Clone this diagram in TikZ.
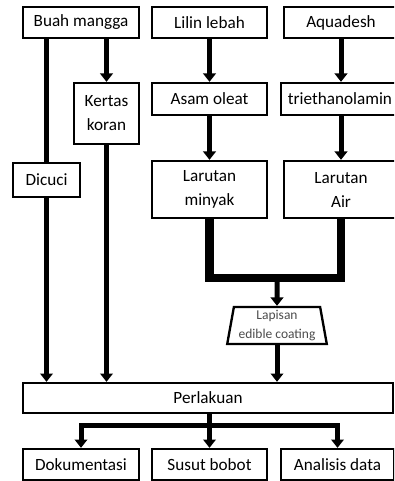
\documentclass[tikz,border=0pt]{standalone}
\usepackage{fontspec}
\setmainfont{Carlito}
\usetikzlibrary{arrows.meta, shapes.geometric}
\tikzset{
  bx/.style={rectangle, draw=black, line width=1.4pt, fill=white, inner sep=0pt,
             align=center, font=\fontsize{10.3}{14.4}\selectfont},
  ln/.style={line width=3pt},
  ar/.style={line width=3pt, -{Triangle[width=7.5pt, length=5pt]}},
  % gabungan larutan minyak + larutan air
  thk/.style={line width=5pt, line join=miter},
  trap/.style={trapezium, trapezium stretches=true, trapezium left angle=79,
               trapezium right angle=79, draw=black, line width=1.4pt, fill=white,
               inner sep=0pt, align=center, text=black!70,
               font=\fontsize{8.1}{11.4}\selectfont}
}
\begin{document}
\begin{tikzpicture}[x=0.6pt,y=-0.6pt]
    \useasboundingbox (0,0) rectangle (394,481);
    \clip (0,0) rectangle (394,481);

    % ---- baris atas ----
    \node[bx, minimum width=69.6pt, minimum height=18.6pt] (buah)  at (81,22.5)  {Buah mangga};
    \node[bx, minimum width=69pt,   minimum height=18.6pt] (lilin) at (209.5,22.5) {Lilin lebah};
    \node[bx, minimum width=68.4pt, minimum height=18.6pt] (aqua)  at (341,22.5) {Aquadesh};

    \node[bx, minimum width=39pt,   minimum height=36.6pt] (kertas) at (106.5,113.5) {Kertas\\koran};
    \node[bx, minimum width=69pt,   minimum height=19.2pt] (asam)   at (209.5,99)   {Asam oleat};
    \node[bx, minimum width=70.8pt, minimum height=19.2pt] (tri)    at (340,99)     {triethanolamin};

    \node[bx, minimum width=40.2pt, minimum height=20.4pt] (dicuci) at (46.5,180)   {Dicuci};
    \node[bx, minimum width=69pt,   minimum height=34.2pt] (minyak) at (209.5,189.5) {Larutan\\minyak};
    \node[bx, minimum width=68.4pt, minimum height=34.2pt] (air)    at (341,189.5)  {Larutan\\Air};

    \node[trap, minimum width=60pt, minimum height=22.2pt] (lapis) at (277,325.5) {Lapisan\\edible coating};

    \node[bx, minimum width=222pt, minimum height=18pt] (perl) at (208,398) {Perlakuan};

    % ---- hasil ----
    \node[bx, minimum width=69.6pt, minimum height=18.6pt] (dok)   at (81,464.5)    {Dokumentasi};
    \node[bx, minimum width=69pt,   minimum height=18.6pt] (susut) at (209.5,464.5) {Susut bobot};
    \node[bx, minimum width=67.8pt, minimum height=18.6pt] (anal)  at (337.5,464.5) {Analisis data};

    % ---- panah ----
    \draw[ln] (buah.south -| dicuci.north) -- (dicuci.north);
    \draw[ar] (dicuci.south) -- (dicuci.south |- perl.north);
    \draw[ar] (buah.south -| kertas.north) -- (kertas.north);
    \draw[ar] (kertas.south) -- (kertas.south |- perl.north);
    \draw[ar] (lilin.south) -- (asam.north); \draw[ar] (asam.south) -- (minyak.north);
    \draw[ar] (aqua.south) -- (aqua.south |- tri.north); \draw[ar] (tri.south -| aqua.south) -- (air.north -| aqua.south);

    \coordinate (jn) at (277,278);
    \draw[thk] (minyak.south) |- (jn) -| (air.south);
    \draw[ar] (jn) -- (lapis.north);
    \draw[ar] (lapis.south) -- (lapis.south |- perl.north);

    \coordinate (br) at (209.5,425);
    \draw[ln] (br |- perl.south) -- (br);
    \draw[ar] (br) -| (dok.north);
    \draw[ar] (br) -- (susut.north);
    \draw[ar] (br) -| (anal.north);
\end{tikzpicture}
\end{document}
